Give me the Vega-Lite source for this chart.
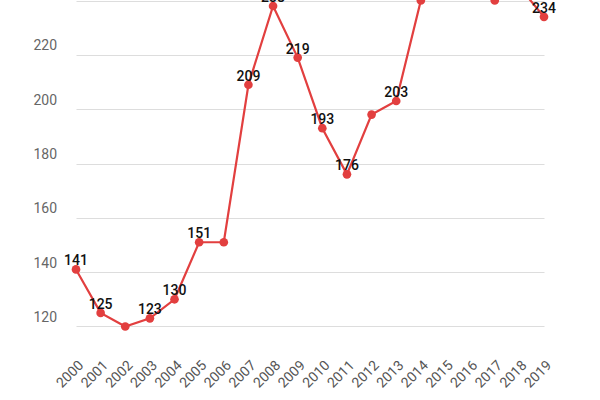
{
  "$schema": "https://vega.github.io/schema/vega-lite/v6.json",
  "autosize": "none",
  "width": 524,
  "height": 352,
  "padding": {"left": 33, "top": 0, "right": 43, "bottom": 48},
  "background": "white",
  "data": {
    "values": [
      {"year": "2000", "value": 141, "label": "141"},
      {"year": "2001", "value": 125, "label": "125"},
      {"year": "2002", "value": 120, "label": ""},
      {"year": "2003", "value": 123, "label": "123"},
      {"year": "2004", "value": 130, "label": "130"},
      {"year": "2005", "value": 151, "label": "151"},
      {"year": "2006", "value": 151, "label": ""},
      {"year": "2007", "value": 209, "label": "209"},
      {"year": "2008", "value": 238, "label": "238"},
      {"year": "2009", "value": 219, "label": "219"},
      {"year": "2010", "value": 193, "label": "193"},
      {"year": "2011", "value": 176, "label": "176"},
      {"year": "2012", "value": 198, "label": ""},
      {"year": "2013", "value": 203, "label": "203"},
      {"year": "2014", "value": 240, "label": ""},
      {"year": "2015", "value": 255, "label": ""},
      {"year": "2016", "value": 250, "label": ""},
      {"year": "2017", "value": 240, "label": ""},
      {"year": "2018", "value": 245, "label": ""},
      {"year": "2019", "value": 234, "label": "234"}
    ]
  },
  "encoding": {
    "x": {
      "field": "year",
      "type": "ordinal",
      "scale": {"type": "point", "range": [43, 511], "padding": 0},
      "axis": {
        "title": null,
        "labelAngle": -45,
        "labelColor": "#555555",
        "labelFont": "Roboto",
        "labelFontSize": 14,
        "labelPadding": 6,
        "ticks": false,
        "domain": false,
        "grid": false
      }
    },
    "y": {
      "field": "value",
      "type": "quantitative",
      "scale": {"domain": [110.6, 240.2], "nice": false, "zero": false},
      "axis": {
        "title": null,
        "values": [120, 140, 160, 180, 200, 220, 240],
        "labelAlign": "left",
        "labelBaseline": "alphabetic",
        "labelOffset": -5,
        "labelPadding": 0,
        "labelColor": "#666666",
        "labelFont": "Roboto",
        "labelFontSize": 14,
        "ticks": false,
        "tickSize": 0,
        "domain": false,
        "grid": true,
        "gridColor": "#dddddd",
        "gridWidth": 1
      }
    }
  },
  "layer": [
    {
      "mark": {"type": "line", "color": "#e23f3f", "strokeWidth": 2.2}
    },
    {
      "mark": {"type": "point", "filled": true, "color": "#e23f3f", "size": 75, "opacity": 1}
    },
    {
      "mark": {
        "type": "text",
        "dy": -4,
        "baseline": "alphabetic",
        "font": "Roboto",
        "fontSize": 14,
        "fontWeight": 500,
        "color": "#111111"
      },
      "encoding": {"text": {"field": "label", "type": "nominal"}}
    }
  ],
  "config": {"view": {"stroke": null}}
}
